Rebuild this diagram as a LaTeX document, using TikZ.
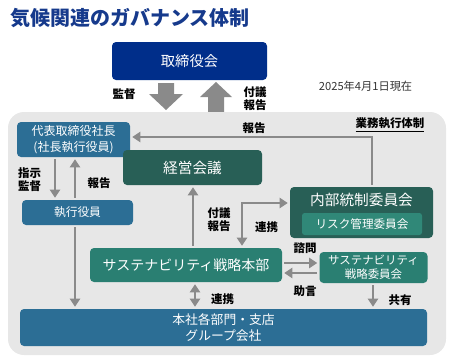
\documentclass[tikz,border=0pt]{standalone}
\usepackage{fontspec}
\setmainfont{Noto Sans CJK JP}
\usepackage{tikz}
\usetikzlibrary{arrows.meta,calc}
\definecolor{gvnavy}{RGB}{0,46,138}
\definecolor{gvtitle}{RGB}{22,58,140}
\definecolor{gvblue}{RGB}{44,110,149}
\definecolor{gvteal}{RGB}{40,95,86}
\definecolor{gvteal2}{RGB}{42,127,114}
\definecolor{gvteal3}{RGB}{48,136,120}
\definecolor{gvgray}{RGB}{138,138,138}
\definecolor{gvbg}{RGB}{231,231,231}
\newdimen\px \px=0.75pt

\begin{document}
\begin{tikzpicture}[x=0.75pt, y=-0.75pt,
  box/.style={rectangle, rounded corners=3pt, text=white, align=center, inner sep=0pt},
  arr/.style={draw=gvgray, line width=1.95pt, shorten >=1.5pt, shorten <=1.5pt,
    -{Triangle[length=6pt, width=7.5pt]}},
  arrb/.style={arr, {Triangle[length=6pt, width=7.5pt]}-{Triangle[length=6pt, width=7.5pt]}},
  lbl/.style={font=\bfseries\fontsize{8.6}{9.8}\selectfont, align=center, inner sep=0pt}]
  \useasboundingbox (0,0) rectangle (453,361);

  % title and board
  \node[anchor=west, inner sep=0pt, text=gvtitle, font=\bfseries\fontsize{15}{18}\selectfont] (title) at (10,18) {気候関連のガバナンス体制};
  \node[box, fill=gvnavy, minimum width=155\px, minimum height=38\px, font=\fontsize{10.7}{13}\selectfont] (board) at (189.5,61) {取締役会};
  \node[inner sep=0pt, text=black!80, font=\fontsize{8.4}{10}\selectfont] (date) at (365.5,86.5) {2025年4月1日現在};

  \fill[gvgray] (158,83) -- (174,83) -- (174,94) -- (183,94) -- (166,110) -- (149,94) -- (158,94) -- cycle;
  \fill[gvgray] (208,114) -- (224,114) -- (224,97) -- (232,97) -- (216,82) -- (200,97) -- (208,97) -- cycle;
  \node[lbl] (kansa) at (124,94) {監督};
  \node[lbl] (fugiA) at (255,98.5) {付議\\報告};

  % execution block
  \fill[gvbg, rounded corners=12pt] (8,112) rectangle (446,355);
  \node[lbl] (gyomu) at (390,125) {\underline{業務執行体制}};

  \node[box, fill=gvblue, minimum width=113\px, minimum height=35\px, font=\fontsize{9}{11.5}\selectfont] (ceo) at (73.5,139.5) {代表取締役社長\\(社長執行役員)};
  \node[box, fill=gvteal, minimum width=139\px, minimum height=35\px, font=\fontsize{11}{13}\selectfont] (keiei) at (192.5,167.5) {経営会議};
  \node[box, fill=gvblue, minimum width=111\px, minimum height=25\px, font=\fontsize{8.8}{11}\selectfont] (shikko) at (77.5,212.5) {執行役員};

  \node[box, fill=gvteal, minimum width=143\px, minimum height=51\px] (naibu) at (361.5,212.5) {};
  \node[text=white, inner sep=0pt, font=\fontsize{11}{13}\selectfont] (naibuT) at (361.5,200) {内部統制委員会};
  \node[box, fill=gvteal3, rounded corners=2pt, minimum width=120\px, minimum height=22\px, font=\fontsize{8.7}{10}\selectfont] (risk) at (362,224) {リスク管理委員会};

  \node[box, fill=gvteal2, minimum width=192\px, minimum height=34\px, font=\fontsize{10.5}{13}\selectfont] (honbu) at (186,265) {サステナビリティ戦略本部};
  \node[box, fill=gvteal2, minimum width=108\px, minimum height=31\px, font=\fontsize{8.6}{10.5}\selectfont] (iinkai) at (373.5,267.5) {サステナビリティ\\戦略委員会};
  \node[box, fill=gvblue, minimum width=407\px, minimum height=37\px, font=\fontsize{9.6}{12}\selectfont] (honsha) at (223.5,327.5) {本社各部門・支店\\グループ会社};

  % columns and rows for connectors
  \coordinate (colA) at (55,0);
  \coordinate (colB) at (75,0);
  \coordinate (colC) at (193,0);
  \coordinate (colD) at (242,0);
  \coordinate (colE) at (372,0);
  \coordinate (colF) at (373,0);
  \coordinate (colG) at (195,0);
  \coordinate (rowC) at (0,203);
  \coordinate (rowD) at (0,137);
  \coordinate (rowE) at (0,263);
  \coordinate (rowF) at (0,273);

  \draw[arr] (ceo.south -| colA) -- (shikko.north -| colA);
  \draw[arr] (shikko.north -| colB) -- (ceo.south -| colB);
  \draw[arr] (shikko.south -| colB) -- (honsha.north -| colB);
  \draw[arr] (honbu.north -| colC) -- (keiei.south -| colC);
  \draw[arr] (naibu.north -| colE) -- (colE |- rowD) -- (ceo.east |- rowD);
  \draw[arrb] (naibu.west |- rowC) -| (honbu.north -| colD);
  \draw[arr] (honbu.east |- rowE) -- (iinkai.west |- rowE);
  \draw[arr] (iinkai.west |- rowF) -- (honbu.east |- rowF);
  \draw[arr] (iinkai.south -| colF) -- (honsha.north -| colF);
  \draw[arrb] (honbu.south -| colG) -- (honsha.north -| colG);

  % labels
  \node[lbl] (hokokuA) at (254,128) {報告};
  \node[lbl] (shiji) at (29.5,179.5) {指示\\監督};
  \node[lbl] (hokokuB) at (99,183) {報告};
  \node[lbl] (fugiB) at (219,220) {付議\\報告};
  \node[lbl] (renkeiA) at (266.5,227) {連携};
  \node[lbl] (shimon) at (305,248) {諮問};
  \node[lbl] (jogen) at (305,291.5) {助言};
  \node[lbl] (kyoyu) at (400,300) {共有};
  \node[lbl] (renkeiB) at (222.5,299) {連携};
\end{tikzpicture}
\end{document}
